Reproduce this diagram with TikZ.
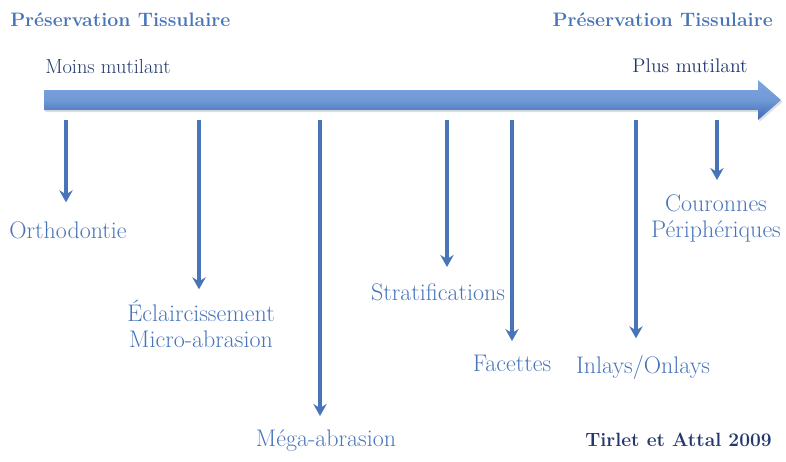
\documentclass[tikz,border=0pt]{standalone}
\usepackage{tikz}
\usetikzlibrary{arrows.meta,shadows}

\definecolor{bleu}{RGB}{72,117,186}
\definecolor{bleufonce}{RGB}{36,56,110}
\definecolor{barhaut}{RGB}{125,165,222}
\definecolor{barbas}{RGB}{62,104,182}

\tikzset{
  etiquette/.style={text=bleu,inner sep=0pt,font=\fontsize{18}{19.5}\selectfont,align=center},
  titre/.style={text=bleu,inner sep=0pt,font=\fontsize{14.6}{17}\selectfont\bfseries},
  sens/.style={text=bleufonce,inner sep=0pt,font=\fontsize{15.3}{17}\selectfont},
  fleche/.style={draw=bleu,line width=2.3pt,-{Stealth[length=9pt,width=10pt,inset=3pt]},shorten >=10.5pt}
}

\begin{document}
\begin{tikzpicture}[x=0.75pt,y=-0.75pt]
\useasboundingbox (0,0) rectangle (786,461);

% titres
\node[titre,anchor=west] (pres1) at (10,20) {Préservation Tissulaire};
\node[titre,anchor=east] (pres2) at (773,20) {Préservation Tissulaire};
\node[sens,anchor=west] (moins) at (45,66) {Moins mutilant};
\node[sens,anchor=east,font=\fontsize{14.8}{17}\selectfont] (plus) at (748,66) {Plus mutilant};

% grande fleche
\path[top color=barhaut,bottom color=barbas,middle color=barhaut!80!barbas,drop shadow={opacity=0.25,shadow xshift=1pt,shadow yshift=-1.5pt}]
  (44,90) -- (758,90) -- (758,80) -- (781,100) -- (758,120) -- (758,110) -- (44,110) -- cycle;

% points de depart sur la fleche
\coordinate (t1) at (66,120);
\coordinate (t2) at (199,120);
\coordinate (t3) at (320,120);
\coordinate (t4) at (447,120);
\coordinate (t5) at (512,120);
\coordinate (t6) at (636,120);
\coordinate (t7) at (717,120);

% techniques
\node[etiquette,anchor=north] (orth) at (68,221) {Orthodontie};
\node[etiquette,anchor=north] (ecl) at (201,300) {Éclaircissement\\Micro-abrasion};
\node[etiquette,anchor=north] (mega) at (326,430) {Méga-abrasion};
\node[etiquette,anchor=north] (strat) at (438,283) {Stratifications};
\node[etiquette,anchor=north] (fac) at (512,355) {Facettes};
\node[etiquette,anchor=north] (inl) at (643,355) {Inlays/Onlays};
\node[etiquette,anchor=north] (cour) at (716,194) {Couronnes\\Périphériques};

\draw[fleche,shorten >=14pt] (t1) -- (t1 |- orth.north);
\draw[fleche,shorten >=8pt] (t2) -- (t2 |- ecl.north);
\draw[fleche] (t3) -- (t3 |- mega.north);
\draw[fleche,shorten >=12pt] (t4) -- (t4 |- strat.north);
\draw[fleche] (t5) -- (t5 |- fac.north);
\draw[fleche,shorten >=12.5pt] (t6) -- (t6 |- inl.north);
\draw[fleche] (t7) -- (t7 |- cour.north);

% source
\node[anchor=east,inner sep=0pt,text=bleufonce,font=\fontsize{14.4}{17}\selectfont\bfseries] (src) at (772,440) {Tirlet et Attal 2009};
\end{tikzpicture}
\end{document}
